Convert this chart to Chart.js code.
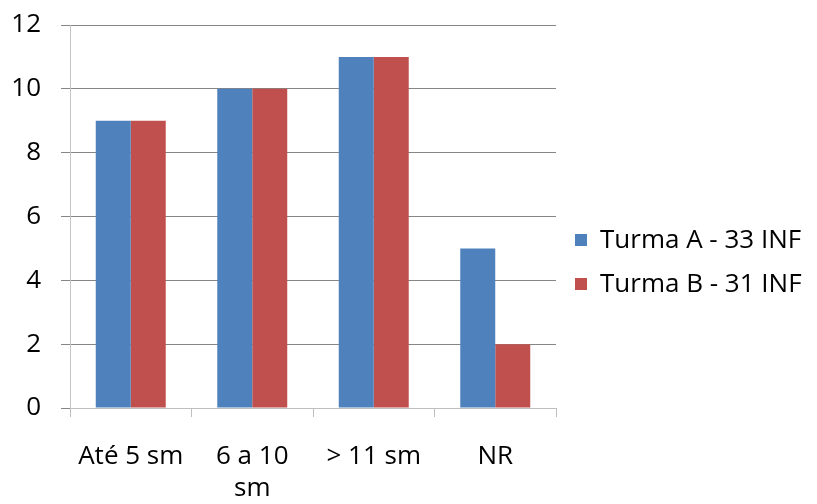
<!DOCTYPE html>
<html>
<head>
<meta charset="utf-8">
<script src="https://cdn.jsdelivr.net/npm/chart.js@4/dist/chart.umd.min.js"></script>
<style>
  html, body { margin: 0; padding: 0; background: #fff; }
  #wrap { width: 817px; height: 504px; }
</style>
</head>
<body>
<div id="wrap"><canvas id="c" width="817" height="504"></canvas></div>
<script>
// Income ranges (in minimum salaries) and counts per class
const categories = ["Até 5 sm", ["6 a 10", "sm"], "> 11 sm", "NR"];
const seriesNames = ["Turma A - 33 INF", "Turma B - 31 INF"];
const turmaA = [9, 10, 11, 5];
const turmaB = [9, 10, 11, 2];
const yTicks = [0, 2, 4, 6, 8, 10, 12];

const FONT = "'Open Sans', sans-serif";
const FONT_SIZE = 26;

// Legend drawn to the right of the plot, one row per dataset
const sideLegend = {
  id: "sideLegend",
  afterDraw(chart) {
    const ctx = chart.ctx;
    const x0 = chart.chartArea.right + 19;
    const rowGap = 44;
    const n = chart.data.datasets.length;
    const yMid = 262;
    ctx.save();
    ctx.font = FONT_SIZE + "px " + FONT;
    ctx.textBaseline = "middle";
    ctx.textAlign = "left";
    chart.data.datasets.forEach((ds, i) => {
      const y = yMid + (i - (n - 1) / 2) * rowGap;
      ctx.fillStyle = ds.backgroundColor;
      ctx.fillRect(x0, y - 6, 12, 12);
      ctx.fillStyle = "#000";
      ctx.fillText(ds.label, x0 + 25, y + 1);
    });
    ctx.restore();
  }
};

new Chart(document.getElementById("c"), {
  type: "bar",
  data: {
    labels: categories,
    datasets: [
      { label: seriesNames[0], data: turmaA, backgroundColor: "#4F81BD" },
      { label: seriesNames[1], data: turmaB, backgroundColor: "#C0504D" }
    ]
  },
  options: {
    responsive: false,
    animation: false,
    layout: { padding: { top: 25, left: 6, right: 261, bottom: 0 } },
    datasets: { bar: { categoryPercentage: 0.576, barPercentage: 1.0 } },
    scales: {
      x: {
        afterFit: (s) => { s.height = 96; },
        grid: { drawOnChartArea: false, color: "#bfbfbf", tickLength: 9 },
        border: { color: "#bfbfbf" },
        ticks: { color: "#000", font: { family: FONT, size: FONT_SIZE, lineHeight: 1.25 }, padding: 23, maxRotation: 0 }
      },
      y: {
        min: 0, max: 12,
        afterBuildTicks: (s) => { s.ticks = yTicks.map(v => ({ value: v })); },
        afterFit: (s) => { s.width = 64; s.paddingTop = 0; s.paddingBottom = 0; },
        grid: { color: "#868686", tickLength: 9 },
        border: { color: "#c4c4c4" },
        ticks: { color: "#000", font: { family: FONT, size: FONT_SIZE }, padding: 20 }
      }
    },
    plugins: {
      tooltip: { enabled: false },
      legend: { display: false }
    }
  },
  plugins: [sideLegend]
});
</script>
</body>
</html>
